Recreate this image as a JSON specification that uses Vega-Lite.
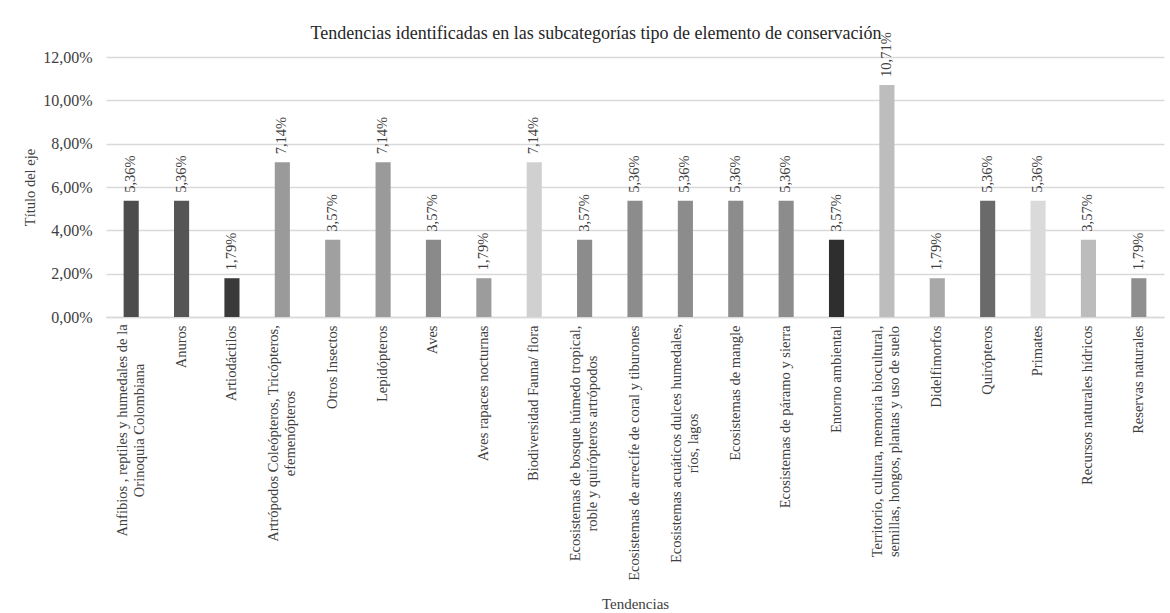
{
  "$schema": "https://vega.github.io/schema/vega-lite/v6.json",
  "width": 1058,
  "height": 260,
  "autosize": {"type": "none"},
  "padding": {"left": 106, "top": 57, "right": 6, "bottom": 296},
  "background": "white",
  "config": {
    "view": {"stroke": null},
    "font": "Liberation Serif",
    "locale": {"number": {"decimal": ",", "thousands": ".", "grouping": [3], "currency": ["", " €"]}}
  },
  "title": {
    "text": "Tendencias identificadas  en las subcategorías tipo de elemento de conservación",
    "font": "Liberation Serif",
    "fontSize": 18,
    "fontWeight": "normal",
    "color": "#262626",
    "anchor": "middle",
    "frame": "group",
    "dx": -39,
    "dy": 29,
    "offset": 18
  },
  "data": {
    "values": [
      {"tendencia": "Anfibios , reptiles y humedales de la|Orinoquia Colombiana", "valor": 0.0536},
      {"tendencia": "Anuros", "valor": 0.0536},
      {"tendencia": "Artiodáctilos", "valor": 0.0179},
      {"tendencia": "Artrópodos Coleópteros, Tricópteros,|efemenópteros", "valor": 0.0714},
      {"tendencia": "Otros Insectos", "valor": 0.0357},
      {"tendencia": "Lepidópteros", "valor": 0.0714},
      {"tendencia": "Aves", "valor": 0.0357},
      {"tendencia": "Aves rapaces nocturnas", "valor": 0.0179},
      {"tendencia": "Biodiversidad Fauna/ flora", "valor": 0.0714},
      {"tendencia": "Ecosistemas de bosque húmedo tropical,|roble y quirópteros artrópodos", "valor": 0.0357},
      {"tendencia": "Ecosistemas de arrecife de coral y tiburones", "valor": 0.0536},
      {"tendencia": "Ecosistemas acuáticos dulces humedales,|ríos, lagos", "valor": 0.0536},
      {"tendencia": "Ecosistemas de mangle", "valor": 0.0536},
      {"tendencia": "Ecosistemas de páramo y sierra", "valor": 0.0536},
      {"tendencia": "Entorno ambiental", "valor": 0.0357},
      {"tendencia": "Territorio, cultura, memoria biocultural,|semillas, hongos, plantas y uso de suelo", "valor": 0.1071},
      {"tendencia": "Didelfimorfos", "valor": 0.0179},
      {"tendencia": "Quirópteros", "valor": 0.0536},
      {"tendencia": "Primates", "valor": 0.0536},
      {"tendencia": "Recursos naturales hídricos", "valor": 0.0357},
      {"tendencia": "Reservas naturales", "valor": 0.0179}
    ]
  },
  "encoding": {
    "x": {
      "field": "tendencia",
      "type": "nominal",
      "sort": null,
      "scale": {"paddingInner": 0.7, "paddingOuter": 0.35},
      "axis": {
        "title": "Tendencias",
        "titleFont": "Liberation Serif",
        "titleFontSize": 15,
        "titleFontWeight": "normal",
        "titleColor": "#404040",
        "titleY": 286,
        "titleBaseline": "middle",
        "labelExpr": "split(datum.label, '|')",
        "labelAngle": -90,
        "labelAlign": {
          "condition": {"test": "indexof(datum.value, '|') >= 0", "value": "center"},
          "value": "right"
        },
        "labelBaseline": "middle",
        "labelFont": "Liberation Serif",
        "labelFontSize": 14.5,
        "labelLineHeight": 17,
        "labelColor": "#404040",
        "labelPadding": {
          "condition": [
            {"test": "indexof(datum.value, 'Anfibios') >= 0", "value": 113},
            {"test": "indexof(datum.value, 'Artrópodos') >= 0", "value": 116},
            {"test": "indexof(datum.value, 'bosque') >= 0", "value": 126},
            {"test": "indexof(datum.value, 'acuáticos') >= 0", "value": 126},
            {"test": "indexof(datum.value, 'Territorio') >= 0", "value": 124}
          ],
          "value": 8
        },
        "labelOffset": {
          "condition": {"test": "indexof(datum.value, '|') >= 0", "value": -8.5},
          "value": 0
        },
        "labelLimit": 0,
        "labelOverlap": false,
        "labelBound": false,
        "ticks": false,
        "domainColor": "#d9d9d9",
        "domainWidth": 1.3
      }
    },
    "y": {
      "field": "valor",
      "type": "quantitative",
      "scale": {"domain": [0, 0.12], "nice": false},
      "axis": {
        "title": "Título del eje",
        "titleFont": "Liberation Serif",
        "titleFontSize": 14.5,
        "titleFontWeight": "normal",
        "titleColor": "#404040",
        "titlePadding": 5,
        "format": ".2%",
        "values": [0, 0.02, 0.04, 0.06, 0.08, 0.1, 0.12],
        "labelFont": "Liberation Serif",
        "labelFontSize": 16,
        "labelColor": "#404040",
        "labelPadding": 14,
        "ticks": false,
        "domain": false,
        "gridColor": "#d9d9d9",
        "gridWidth": 1.3
      }
    }
  },
  "layer": [
    {
      "mark": {"type": "bar", "stroke": null},
      "encoding": {
        "color": {
          "field": "tendencia",
          "type": "nominal",
          "sort": null,
          "legend": null,
          "scale": {
            "range": ["#4d4d4d", "#555555", "#3a3a3a", "#9a9a9a", "#a0a0a0", "#9a9a9a", "#8a8a8a", "#9c9c9c", "#d0d0d0", "#8c8c8c", "#8c8c8c", "#8c8c8c", "#8c8c8c", "#8c8c8c", "#2e2e2e", "#bdbdbd", "#a8a8a8", "#6a6a6a", "#dadada", "#bcbcbc", "#8f8f8f"]
          }
        }
      }
    },
    {
      "mark": {
        "type": "text",
        "angle": -90,
        "align": "left",
        "baseline": "middle",
        "dx": 8,
        "font": "Liberation Serif",
        "fontSize": 14.5,
        "color": "#404040"
      },
      "encoding": {
        "text": {"field": "valor", "type": "quantitative", "format": ".2%"}
      }
    }
  ]
}
